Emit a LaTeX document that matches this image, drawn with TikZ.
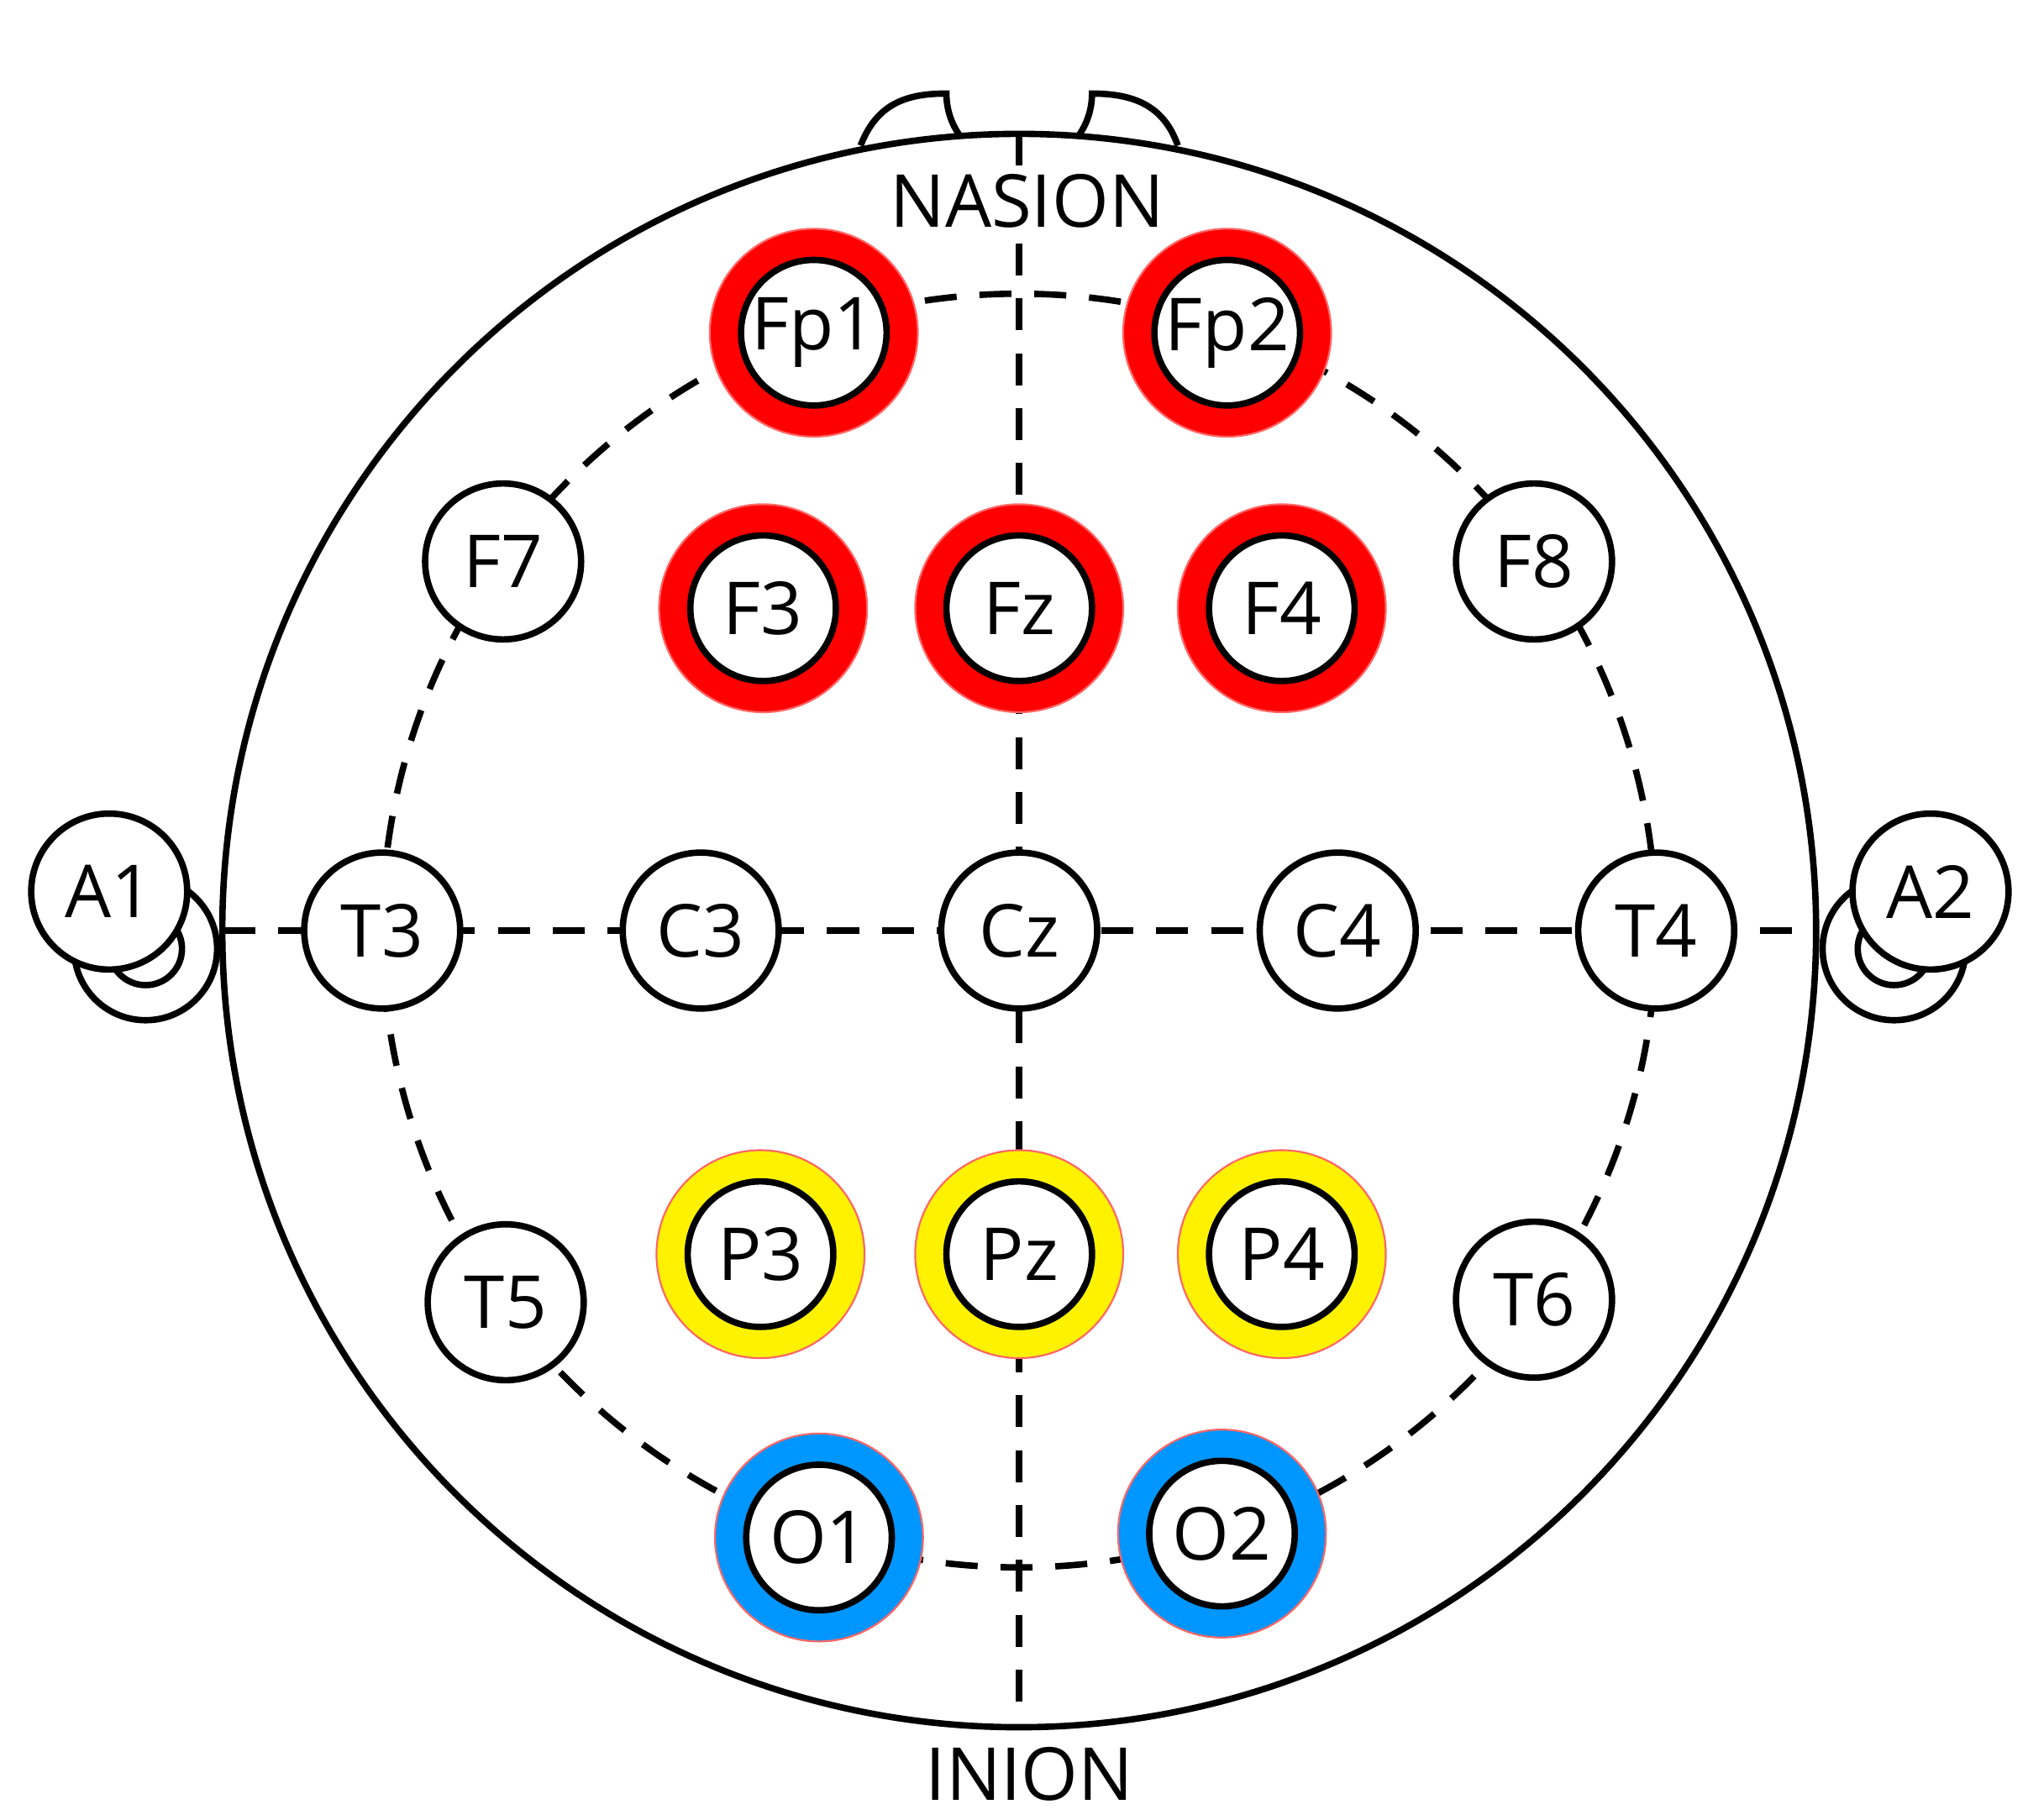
\documentclass[tikz,border=0pt]{standalone}
\usepackage{fontspec}
\setmainfont{Open Sans}
\begin{document}
\begin{tikzpicture}[x=0.01cm,y=-0.01cm,
  ln/.style={line width=1.4pt},
  dsh/.style={line width=1.4pt,dash pattern=on 7pt off 5pt},
  el/.style={circle,draw,line width=1.4pt,fill=white,minimum size=120*0.01cm,inner sep=0pt,font=\fontsize{16}{18}\selectfont},
  cel/.style={el,minimum size=112*0.01cm},
  ring/.style={circle,fill=#1,draw=red!60,line width=0.4pt,minimum size=160*0.01cm,inner sep=0pt}]
\useasboundingbox (0,0) rectangle (1560,1400);
% nose
\draw[ln,fill=white] (662,112) .. controls (675,78) and (700,72) .. (728,72) arc[start angle=180,end angle=0,radius=56] .. controls (870,72) and (895,80) .. (906,112);
% ears
\foreach \x in {112,1457}{
  \draw[ln,fill=white] (\x,730) circle[radius=55];
  \draw[ln,fill=white] (\x,730) circle[radius=28];}
\node[el] (A1) at (84,686) {A1};
\node[el] (A2) at (1485,686) {A2};
% head
\draw[ln,fill=white] (784,716) circle[radius=613];
\coordinate (L) at (172,716); \coordinate (R) at (1397,716);
\coordinate (N) at (784,103); \coordinate (I) at (784,1330);
\draw[dsh] (L) -- (R);
\draw[dsh] (N) -- (I);
\draw[dsh] (784,716) circle[radius=490];
\node[fill=white,inner sep=1pt,font=\fontsize{16}{18}\selectfont] (nas) at (790,155) {NASION};
\draw[dsh] (784,103) -- (784,130);
\node[fill=white,inner sep=1pt,font=\fontsize{16}{18}\selectfont] (ini) at (792,1365) {INION};
% rings
\foreach \p/\c in {{626,256}/red,{944,256}/red,{587,468}/red,{784,468}/red,{986,468}/red,{585,965}/yellow,{784,965}/yellow,{986,965}/yellow,{630,1183}/{rgb,255:red,0;green,150;blue,255},{940,1180}/{rgb,255:red,0;green,150;blue,255}}
  \node[ring=\c] at (\p) {};
\node[cel] (Fp1) at (626,256) {Fp1};
\node[cel] (Fp2) at (944,256) {Fp2};
\node[cel] (F3) at (587,468) {F3};
\node[cel] (Fz) at (784,468) {Fz};
\node[cel] (F4) at (986,468) {F4};
\node[cel] (P3) at (585,965) {P3};
\node[cel] (Pz) at (784,965) {Pz};
\node[cel] (P4) at (986,965) {P4};
\node[cel] (O1) at (630,1183) {O1};
\node[cel] (O2) at (940,1180) {O2};
\node[el] (F7) at (387,432) {F7};
\node[el] (F8) at (1180,432) {F8};
\node[el] (T3) at (294,716) {T3};
\node[el] (C3) at (539,716) {C3};
\node[el] (Cz) at (784,716) {Cz};
\node[el] (C4) at (1029,716) {C4};
\node[el] (T4) at (1274,716) {T4};
\node[el] (T5) at (389,1002) {T5};
\node[el] (T6) at (1180,1000) {T6};
\end{tikzpicture}
\end{document}
